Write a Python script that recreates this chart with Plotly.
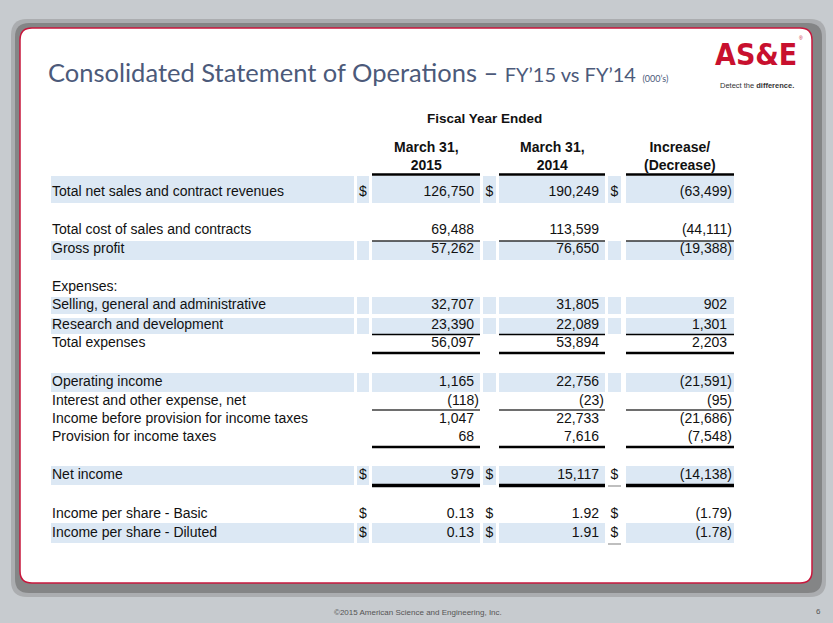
import plotly.graph_objects as go

# Statement rows (000's) as shown on the slide
row_labels = ["Total net sales and contract revenues", "Total cost of sales and contracts", "Gross profit",
              "Expenses:", "Selling, general and administrative", "Research and development", "Total expenses",
              "Operating income", "Interest and other expense, net", "Income before provision for income taxes",
              "Provision for income taxes", "Net income", "Income per share - Basic", "Income per share - Diluted"]
fy15 = [126750, 69488, 57262, None, 32707, 23390, 56097, 1165, -118, 1047, 68, 979, 0.13, 0.13]
fy14 = [190249, 113599, 76650, None, 31805, 22089, 53894, 22756, -23, 22733, 7616, 15117, 1.92, 1.91]
change = [-63499, -44111, -19388, None, 902, 1301, 2203, -21591, -95, -21686, -7548, -14138, -1.79, -1.78]
dollar_rows = ["Total net sales and contract revenues", "Net income",
               "Income per share - Basic", "Income per share - Diluted"]
col_headers = ["March 31,<br>2015", "March 31,<br>2014", "Increase/<br>(Decrease)"]
group_header = "Fiscal Year Ended"

# layout (pixel positions on the slide)
W, H = 833, 623
row_y = [192, 230, 249, 287, 305, 325, 343, 382, 401, 419, 437, 475, 514, 533]
shaded = {0: (176, 203), 2: (241, 260), 4: (297, 314), 5: (318, 334), 7: (373, 392), 11: (466, 485), 13: (523, 543)}
label_span = (51, 354)
dollar_spans = [(357, 369), (483, 496), (608, 621)]
value_spans = [(372, 480), (499, 605), (626, 734)]
value_right = [479, 604, 732]
rules = [(174.5, 2.5, "black"), (241, 1.5, "#333333"), (334.5, 1.5, "black"), (353, 2.5, "black"),
         (410, 2, "#6e6e6e"), (447, 2.5, "black"), (485.5, 3.5, "black")]
SHADE = "#dce8f4"
TXT = dict(family="Liberation Sans, Arial, sans-serif", size=14, color="#111111")


def fmt(v, per_share):
    if v is None:
        return ""
    s = f"{abs(v):,.2f}" if per_share else f"{abs(v):,.0f}"
    return f"({s})" if v < 0 else s


def rounded(x0, y0, x1, y1, r):
    return (f"M{x0 + r},{y0} L{x1 - r},{y0} Q{x1},{y0} {x1},{y0 + r} L{x1},{y1 - r} Q{x1},{y1} {x1 - r},{y1} "
            f"L{x0 + r},{y1} Q{x0},{y1} {x0},{y1 - r} L{x0},{y0 + r} Q{x0},{y0} {x0 + r},{y0} Z")


shapes = []
# slide card with shadow
shapes.append(dict(type="path", path=rounded(11, 19, 826, 597, 16), fillcolor="#8a8a8a", opacity=0.45,
                   line_width=0, layer="below"))
shapes.append(dict(type="path", path=rounded(15, 23, 822, 593, 14), fillcolor="#6a6a6a", opacity=0.6,
                   line_width=0, layer="below"))
shapes.append(dict(type="path", path=rounded(20, 28, 812, 583, 12), fillcolor="white",
                   line=dict(color="#c8173c", width=1.5), layer="below"))

# shaded bands
for i, (top, bot) in shaded.items():
    spans = [label_span] + value_spans + dollar_spans[:2]
    if row_labels[i] not in ("Net income", "Income per share - Diluted"):
        spans.append(dollar_spans[2])
    for x0, x1 in spans:
        shapes.append(dict(type="rect", x0=x0, x1=x1, y0=top, y1=bot, fillcolor=SHADE, line_width=0,
                           layer="below"))

# rules under value columns
for y, w, c in rules:
    for x0, x1 in value_spans:
        shapes.append(dict(type="line", x0=x0, x1=x1, y0=y, y1=y, line=dict(color=c, width=w), layer="below"))
for i in (11, 13):
    x0, x1 = dollar_spans[2]
    shapes.append(dict(type="line", x0=x0, x1=x1, y0=row_y[i] + 11, y1=row_y[i] + 11,
                       line=dict(color="#aaaaaa", width=1.5), layer="below"))

fig = go.Figure()

# labels
fig.add_trace(go.Scatter(x=[label_span[0] + 1] * len(row_labels), y=row_y, text=row_labels,
                         mode="text", textposition="middle right", textfont=TXT, hoverinfo="skip"))

# value columns
for k, col in enumerate([fy15, fy14, change]):
    xs, ys, ts = [], [], []
    for i, v in enumerate(col):
        if v is None:
            continue
        per_share = "per share" in row_labels[i]
        xs.append(value_right[k] - (0 if v < 0 else 5))
        ys.append(row_y[i])
        ts.append(fmt(v, per_share))
    fig.add_trace(go.Scatter(x=xs, y=ys, text=ts, mode="text", textposition="middle left",
                             textfont=TXT, hoverinfo="skip"))

    # dollar signs
    dy = [row_y[i] for i, lab in enumerate(row_labels) if lab in dollar_rows]
    fig.add_trace(go.Scatter(x=[sum(dollar_spans[k]) / 2] * len(dy), y=dy, text=["$"] * len(dy),
                             mode="text", textposition="middle center", textfont=TXT, hoverinfo="skip"))

annotations = []
annotations.append(dict(x=484, y=118, text=f"<b>{group_header}</b>", showarrow=False, font=dict(TXT, size=13.5)))
for k, h in enumerate(col_headers):
    annotations.append(dict(x=sum(value_spans[k]) / 2, y=156, text=f"<b>{h}</b>", showarrow=False,
                            font=TXT, align="center"))

# title
annotations.append(dict(x=46, y=72, xanchor="left", yanchor="middle", showarrow=False,
                        text="Consolidated Statement of Operations – "
                             "<span style='font-size:20px'>FY’15 vs FY’14</span> "
                             "<span style='font-size:9px'>(000’s)</span>",
                        font=dict(family="Lato, Open Sans, sans-serif", size=25.5, color="#4c5a7a")))
# logo
annotations.append(dict(x=756, y=54, showarrow=False, text="<b>AS&E</b>",
                        font=dict(family="Liberation Sans Narrow, DejaVu Sans Condensed, sans-serif",
                                  size=30, color="#c8102e")))
annotations.append(dict(x=801, y=38, showarrow=False, text="®",
                        font=dict(family="Liberation Sans, sans-serif", size=5, color="#c8102e")))
annotations.append(dict(x=757, y=85, showarrow=False, text="Detect the <b>difference.</b>",
                        font=dict(family="Liberation Sans Narrow, sans-serif", size=7.5, color="#333333")))
# footer
annotations.append(dict(x=418, y=612, showarrow=False, text="©2015 American Science and Engineering, Inc.",
                        font=dict(family="Liberation Sans Narrow, sans-serif", size=8, color="#555555")))
annotations.append(dict(x=818, y=611, showarrow=False, text="6",
                        font=dict(family="Liberation Sans Narrow, sans-serif", size=8, color="#555555")))

fig.update_layout(width=W, height=H, margin=dict(l=0, r=0, t=0, b=0),
                  paper_bgcolor="#c7cbcf", plot_bgcolor="#c7cbcf", showlegend=False,
                  shapes=shapes, annotations=annotations,
                  xaxis=dict(range=[0, W], visible=False, fixedrange=True),
                  yaxis=dict(range=[H, 0], visible=False, fixedrange=True))
fig.write_html("out.html", config={"displayModeBar": False},
               post_script="document.body.style.margin='0';document.body.style.overflow='hidden';")
